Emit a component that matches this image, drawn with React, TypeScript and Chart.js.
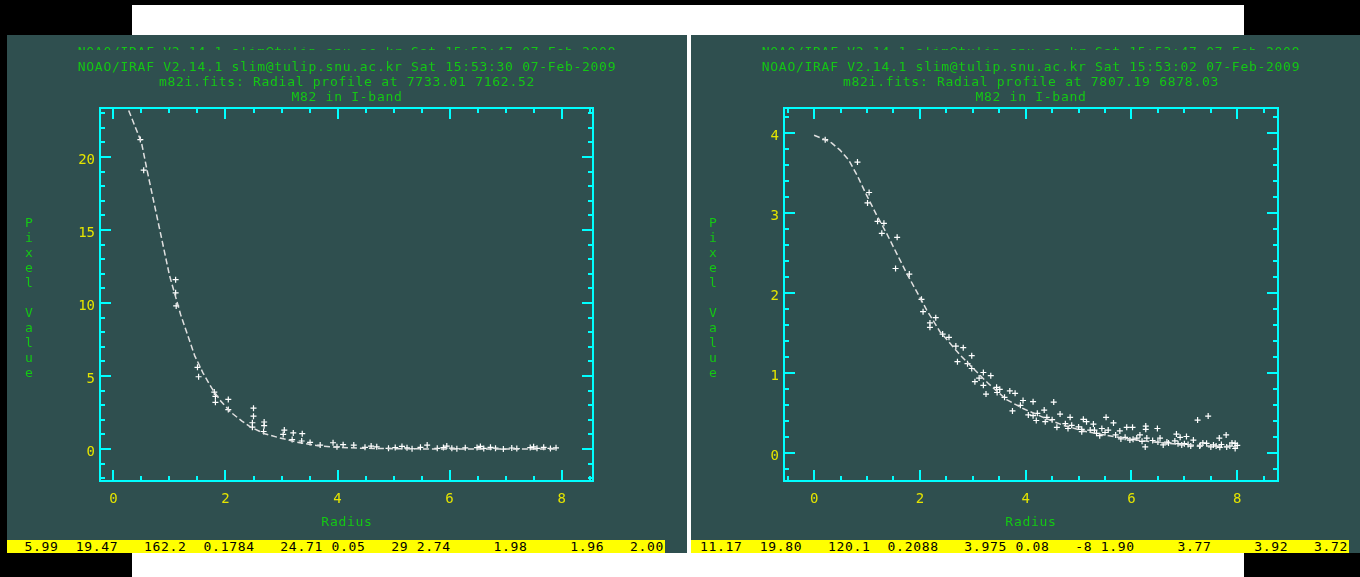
import React, { useEffect, useRef } from 'react';
import { Chart, registerables } from 'chart.js';

Chart.register(...registerables);

// ---------------- data ----------------
const leftCurveX = [0, 0.25, 0.5, 0.6, 0.8, 1.0, 1.2, 1.45, 1.6, 1.75, 1.9, 2.1, 2.3, 2.45, 2.7, 2.95, 3.3, 3.65, 4.0, 4.4, 5.0, 6.0, 7.0, 7.92];
const leftCurveY = [24.71, 23.4, 21.0, 19.1, 15.5, 11.9, 9.2, 6.4, 5.2, 4.2, 3.35, 2.5, 1.9, 1.5, 1.05, 0.78, 0.45, 0.22, 0.12, 0.06, 0.02, 0.0, 0.0, 0.0];

const leftPointsX = [0.48, 0.54, 1.11, 1.11, 1.12, 1.5, 1.52, 1.8, 1.82, 1.82, 2.05, 2.05, 2.5, 2.5, 2.48, 2.48, 2.69, 2.69, 2.68, 3.05, 3.03, 3.21, 3.19, 3.37, 3.36, 3.51, 3.69, 3.92, 3.99, 4.29, 4.49, 4.7,
  4.91, 5.03, 5.24, 5.33, 5.48, 5.6, 5.78, 5.89, 6.04, 6.13, 6.28, 6.49, 6.61, 6.73, 6.82, 6.96, 7.11, 7.2, 7.44, 7.56, 7.68, 7.8, 4.6, 4.1, 5.15, 5.95, 6.55, 7.5, 7.9];
const leftPointsY = [21.2, 19.1, 11.6, 10.7, 9.8, 5.6, 4.95, 3.9, 3.6, 3.2, 3.4, 2.7, 2.8, 2.25, 1.8, 1.5, 1.85, 1.6, 1.2, 1.3, 1.0, 1.1, 0.65, 1.05, 0.55, 0.45, 0.27, 0.43, 0.15, 0.27, 0.12, 0.15,
  0.05, 0.1, 0.08, 0.02, 0.12, 0.27, 0.05, 0.1, 0.06, 0.02, 0.08, 0.1, 0.04, 0.12, 0.06, 0.0, 0.07, 0.03, 0.1, 0.05, 0.12, 0.04, 0.2, 0.3, 0.18, 0.2, 0.18, 0.15, 0.08];

const rightCurveX = [0, 0.21, 0.33, 0.49, 0.65, 0.81, 0.99, 1.18, 1.37, 1.56, 1.75, 1.94, 2.13, 2.38, 2.57, 2.76, 3.01, 3.29, 3.64, 3.95, 4.33, 4.71, 5.15, 5.66, 6.16, 6.67, 7.29, 7.99];
const rightCurveY = [3.975, 3.92, 3.88, 3.79, 3.67, 3.48, 3.23, 2.98, 2.75, 2.5, 2.25, 2.02, 1.79, 1.52, 1.375, 1.23, 1.06, 0.875, 0.67, 0.56, 0.45, 0.35, 0.27, 0.21, 0.16, 0.125, 0.095, 0.08];

const rightPointsX = [0.21, 0.82, 1.04, 1.01, 1.2, 1.32, 1.28, 1.57, 1.54, 1.8, 2.03, 2.06, 2.3, 2.19, 2.19, 2.43, 2.68, 2.82, 2.98, 2.71, 2.98, 3.2, 3.34, 3.12, 3.04, 3.2, 3.45, 3.51, 3.7, 3.8, 3.25, 3.46,
  3.95, 4.14, 4.53, 3.75, 4.05, 4.14, 4.2, 4.35, 4.4, 4.65, 4.84, 4.37, 4.59, 4.87, 4.8, 5.09, 5.15, 5.52, 5.66, 5.28, 5.06, 5.22, 5.06, 5.44, 5.56, 5.34, 5.91, 6.02, 5.78, 6.16, 6.27, 6.27, 6.49,
  5.97, 6.03, 6.29, 6.26, 6.54, 6.6, 6.85, 6.92, 6.82, 7.04, 7.17, 7.25, 7.45, 6.95, 7.29, 7.42, 7.66, 7.79, 7.67, 7.86, 7.96, 7.96, 6.67, 7.07, 7.55,
  3.6, 3.9, 4.22, 4.5, 4.75, 5.0, 5.3, 5.5, 5.7, 5.88, 6.1, 6.4, 6.7, 7.0, 7.3, 7.6, 7.8, 8.0, 7.9, 7.7, 7.5, 7.35, 7.12, 6.88, 6.5, 6.2, 5.8, 5.4, 2.55, 2.9];
const rightPointsY = [3.92, 3.64, 3.26, 3.13, 2.9, 2.875, 2.75, 2.7, 2.31, 2.24, 1.925, 1.77, 1.695, 1.63, 1.575, 1.49, 1.34, 1.32, 1.22, 1.145, 1.06, 1.01, 0.97, 0.94, 0.895, 0.85, 0.825, 0.8, 0.78, 0.75, 0.74, 0.76,
  0.66, 0.645, 0.64, 0.53, 0.48, 0.47, 0.41, 0.54, 0.45, 0.49, 0.45, 0.395, 0.325, 0.35, 0.31, 0.425, 0.395, 0.45, 0.38, 0.365, 0.3, 0.29, 0.27, 0.31, 0.29, 0.25, 0.325, 0.325, 0.28, 0.23, 0.34, 0.3, 0.31,
  0.166, 0.175, 0.19, 0.08, 0.19, 0.105, 0.24, 0.2, 0.155, 0.21, 0.166, 0.416, 0.466, 0.105, 0.09, 0.125, 0.19, 0.23, 0.075, 0.09, 0.125, 0.06, 0.14, 0.11, 0.105,
  0.7, 0.6, 0.5, 0.42, 0.37, 0.33, 0.29, 0.26, 0.23, 0.2, 0.19, 0.16, 0.13, 0.12, 0.1, 0.09, 0.08, 0.1, 0.13, 0.11, 0.08, 0.13, 0.09, 0.12, 0.14, 0.15, 0.18, 0.22, 1.45, 1.12];

const leftXLabels = [0, 2, 4, 6, 8];
const leftYLabels = [0, 5, 10, 15, 20];
const rightXLabels = [0, 2, 4, 6, 8];
const rightYLabels = [0, 1, 2, 3, 4];

const headerLine = 'NOAO/IRAF V2.14.1 slim@tulip.snu.ac.kr Sat 15:53:47 07-Feb-2009';
const leftTitle = ['NOAO/IRAF V2.14.1 slim@tulip.snu.ac.kr Sat 15:53:30 07-Feb-2009', 'm82i.fits: Radial profile at 7733.01 7162.52', 'M82 in I-band'];
const rightTitle = ['NOAO/IRAF V2.14.1 slim@tulip.snu.ac.kr Sat 15:53:02 07-Feb-2009', 'm82i.fits: Radial profile at 7807.19 6878.03', 'M82 in I-band'];
const leftStatus = ' 5.99  19.47   162.2  0.1784   24.71 0.05   29 2.74     1.98     1.96   2.00';
const rightStatus = '11.17  19.80   120.1  0.2088   3.975 0.08   -8 1.90     3.77     3.92   3.72';
const xTitle = 'Radius';
const yTitle = 'Pixel Value';

// ---------------- style ----------------
const FONT = '"DejaVu Sans Mono", monospace';
const TEAL = '#2f4f4f';
const GREEN = '#14c814';
const YELLOW = '#e4e400';
const CYAN = '#00ffff';

type PanelCfg = {
  curveX: number[]; curveY: number[]; ptsX: number[]; ptsY: number[];
  xLabels: number[]; yLabels: number[];
  xMin: number; xMax: number; yMin: number; yMax: number;
  xMajor: number; xMinor: number; yMajor: number; yMinor: number;
  width: number; rightPad: number;
};

function tickValues(min: number, max: number, step: number) {
  const out: number[] = [];
  let i = Math.ceil(min / step - 1e-9);
  while (i * step <= max + 1e-9) { out.push(Math.round(i * step * 1000) / 1000); i++; }
  return out;
}

function makeFramePlugin(cfg: PanelCfg) {
  return {
    id: 'irafFrame',
    afterDatasetsDraw(chart: any) {
      const { ctx, chartArea: a, scales } = chart;
      const xs = scales.x, ys = scales.y;
      ctx.save();
      ctx.strokeStyle = CYAN;
      ctx.lineWidth = 2;
      ctx.strokeRect(a.left, a.top, a.right - a.left, a.bottom - a.top);
      ctx.beginPath();
      const isMajor = (v: number, m: number) => Math.abs(v / m - Math.round(v / m)) < 1e-6;
      tickValues(cfg.xMin, cfg.xMax, cfg.xMinor).forEach((v) => {
        const len = isMajor(v, cfg.xMajor) ? 11 : 5;
        const px = Math.round(xs.getPixelForValue(v));
        ctx.moveTo(px, a.bottom); ctx.lineTo(px, a.bottom - len);
        ctx.moveTo(px, a.top); ctx.lineTo(px, a.top + len);
      });
      tickValues(cfg.yMin, cfg.yMax, cfg.yMinor).forEach((v) => {
        const len = isMajor(v, cfg.yMajor) ? 11 : 5;
        const py = Math.round(ys.getPixelForValue(v));
        ctx.moveTo(a.left, py); ctx.lineTo(a.left + len, py);
        ctx.moveTo(a.right, py); ctx.lineTo(a.right - len, py);
      });
      ctx.stroke();
      ctx.restore();
    },
  };
}

function Panel({ cfg, left, title, status }: { cfg: PanelCfg; left: number; title: string[]; status: string }) {
  const ref = useRef<HTMLCanvasElement>(null);
  useEffect(() => {
    if (!ref.current) return;
    const chart = new Chart(ref.current, {
      type: 'scatter',
      data: {
        datasets: [
          {
            data: cfg.curveX.map((x, i) => ({ x, y: cfg.curveY[i] })),
            showLine: true,
            pointRadius: 0,
            borderColor: '#e0e0e0',
            borderWidth: 1.5,
            borderDash: [6, 3],
          },
          {
            data: cfg.ptsX.map((x, i) => ({ x, y: cfg.ptsY[i] })),
            pointStyle: 'cross',
            pointRadius: 3,
            borderColor: '#ffffff',
            borderWidth: 1.2,
            backgroundColor: '#ffffff',
          },
        ],
      } as any,
      options: {
        responsive: false,
        animation: false,
        devicePixelRatio: 1,
        layout: { padding: { top: 73, right: cfg.rightPad, left: 0, bottom: 0 } },
        plugins: { legend: { display: false }, tooltip: { enabled: false }, title: { display: false } },
        scales: {
          x: {
            type: 'linear',
            min: cfg.xMin,
            max: cfg.xMax,
            afterFit: (s: any) => { s.height = 59; },
            afterBuildTicks: (s: any) => { s.ticks = cfg.xLabels.map((v) => ({ value: v })); },
            grid: { display: false, drawTicks: false },
            border: { display: false },
            ticks: {
              color: YELLOW, font: { family: FONT, size: 14 }, padding: 10,
              maxRotation: 0, autoSkip: false, callback: (v: any) => String(v),
            },
          },
          y: {
            type: 'linear',
            min: cfg.yMin,
            max: cfg.yMax,
            afterFit: (s: any) => { s.width = 93; },
            afterBuildTicks: (s: any) => { s.ticks = cfg.yLabels.map((v) => ({ value: v })); },
            grid: { display: false, drawTicks: false },
            border: { display: false },
            ticks: {
              color: YELLOW, font: { family: FONT, size: 14 }, padding: 5, labelOffset: 3,
              autoSkip: false, callback: (v: any) => String(v),
            },
          },
        },
      } as any,
      plugins: [makeFramePlugin(cfg)],
    });
    return () => chart.destroy();
  }, []);

  const textStyle: React.CSSProperties = {
    fontFamily: FONT, fontSize: 13, letterSpacing: '0.72px', color: GREEN, whiteSpace: 'pre', lineHeight: '15px',
  };

  return (
    <div style={{ position: 'absolute', left, top: 35, width: cfg.width, height: 518, background: TEAL, overflow: 'hidden' }}>
      <canvas ref={ref} width={cfg.width} height={505} style={{ position: 'absolute', left: 0, top: 0, display: 'block' }} />
      <div style={{ position: 'absolute', left: 40, width: 600, top: 11.5, height: 3.5, overflow: 'hidden' }}>
        <div style={{ ...textStyle, position: 'absolute', left: 0, width: 600, top: -2.1, textAlign: 'center' }}>{headerLine}</div>
      </div>
      <div style={{ ...textStyle, position: 'absolute', left: 40, width: 600, top: 24.2, textAlign: 'center' }}>
        {title.join('\n')}
      </div>
      <div style={{ ...textStyle, letterSpacing: 0, position: 'absolute', left: 12, width: 20, top: 180, textAlign: 'center' }}>
        {yTitle.split('').join('\n')}
      </div>
      <div style={{ ...textStyle, position: 'absolute', left: 240, width: 200, top: 478.5, textAlign: 'center' }}>{xTitle}</div>
      <div style={{ position: 'absolute', left: 0, top: 505, width: 658, height: 13, background: '#ffff00', overflow: 'hidden' }}>
        <div style={{ ...textStyle, color: '#000', letterSpacing: '0.7px', lineHeight: '13px', position: 'absolute', left: 9, top: 0 }}>{status}</div>
      </div>
    </div>
  );
}

const leftCfg: PanelCfg = {
  curveX: leftCurveX, curveY: leftCurveY, ptsX: leftPointsX, ptsY: leftPointsY,
  xLabels: leftXLabels, yLabels: leftYLabels,
  xMin: -0.24, xMax: 8.56, yMin: -2.19, yMax: 23.36,
  xMajor: 2, xMinor: 0.5, yMajor: 5, yMinor: 1,
  width: 680, rightPad: 94,
};

const rightCfg: PanelCfg = {
  curveX: rightCurveX, curveY: rightCurveY, ptsX: rightPointsX, ptsY: rightPointsY,
  xLabels: rightXLabels, yLabels: rightYLabels,
  xMin: -0.569, xMax: 8.77, yMin: -0.346, yMax: 4.316,
  xMajor: 2, xMinor: 0.5, yMajor: 1, yMinor: 0.2,
  width: 669, rightPad: 82,
};

export default function App() {
  return (
    <div style={{ position: 'fixed', left: 0, top: 0, width: 1360, height: 577, background: '#000', overflow: 'hidden' }}>
      <div style={{ position: 'absolute', left: 132, top: 5, width: 1112, height: 572, background: '#ffffff' }} />
      <Panel cfg={leftCfg} left={7} title={leftTitle} status={leftStatus} />
      <Panel cfg={rightCfg} left={691} title={rightTitle} status={rightStatus} />
    </div>
  );
}
